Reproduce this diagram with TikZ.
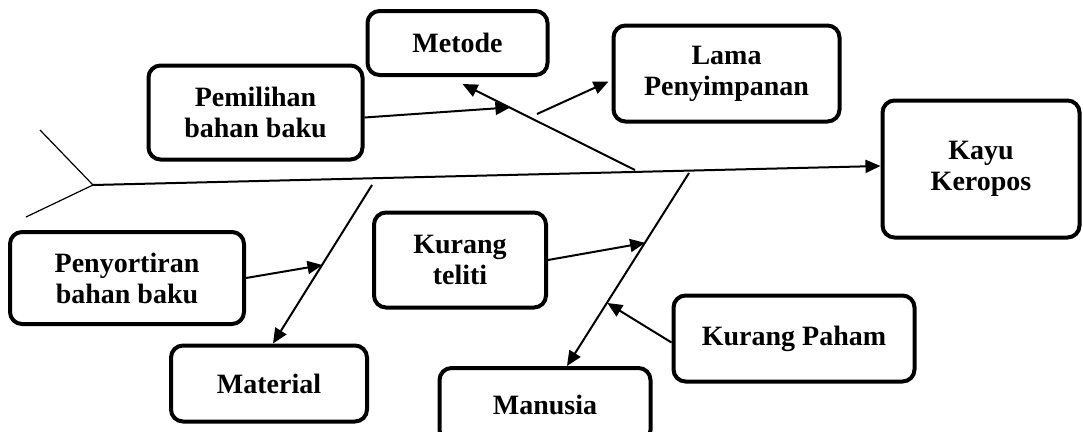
\documentclass[tikz,border=0pt]{standalone}
\usepackage{fontspec}
\setmainfont{Liberation Serif}
\usetikzlibrary{arrows.meta,calc}

\tikzset{
  cause/.style={draw,line width=4pt,rounded corners=12pt,align=center,
    inner sep=0pt,font=\bfseries\fontsize{28}{31}\selectfont},
  link/.style={line width=2pt,-{Triangle[length=15pt,width=13pt]}}
}

\begin{document}
\begin{tikzpicture}[x=1pt,y=-1pt]
			\useasboundingbox (0,0) rectangle (1083,431);
			\node[cause,minimum width=180pt,minimum height=64pt] (metode) at (457.5,43) {Metode};
			\node[cause,minimum width=214pt,minimum height=94pt] (pemilihan) at (255.5,112.5) {Pemilihan\\bahan baku};
			\node[cause,minimum width=226pt,minimum height=96pt] (lama) at (726.5,73.5) {Lama\\Penyimpanan};
			\node[cause,minimum width=197pt,minimum height=137pt] (kayu) at (981,169) {Kayu\\Keropos};
			\node[cause,minimum width=234pt,minimum height=92pt] (penyortiran) at (127,278) {Penyortiran\\bahan baku};
			\node[cause,minimum width=172pt,minimum height=95pt] (teliti) at (460,260) {Kurang\\teliti};
			\node[cause,minimum width=241pt,minimum height=86pt] (paham) at (794,338.5) {Kurang Paham};
			\node[cause,minimum width=196pt,minimum height=76pt] (material) at (269,383.5) {Material};
			\node[cause,minimum width=211pt,minimum height=74pt] (manusia) at (545,405) {Manusia};
			\coordinate (head) at (93,185);
			\coordinate (m0) at (635,170);
			\coordinate (a0) at (372,185);
			\coordinate (u0) at (689,173);
			\coordinate (l0) at (537,114);
			\draw[line width=1.2pt] (head) -- (40,130);
			\draw[line width=1.2pt] (head) -- (26,217);
			\draw[link] (head) -- (kayu.west |- 0,166);
			\draw[link] (m0) -- ($(metode.south)+(5,7)$);
			\draw[link] (a0) -- ($(material.north)+(4,0)$);
			\draw[link] (u0) -- ($(manusia.north)+(22,0)$);
			\draw[link] ($(pemilihan.east)+(0,5)$) -- ($(m0)!0.72!(462,83)$);
			\draw[link] (l0) -- ($(lama.west)+(-3,8)$);
			\draw[link] (penyortiran.east) -- ($(a0)!0.5!(273,345)$);
			\draw[link] (teliti.east) -- ($(u0)!0.36!(567,367)$);
			\draw[link] ($(paham.west)+(0,4)$) -- ($(u0)!0.67!(567,367)$);
		\end{tikzpicture}
\end{document}
